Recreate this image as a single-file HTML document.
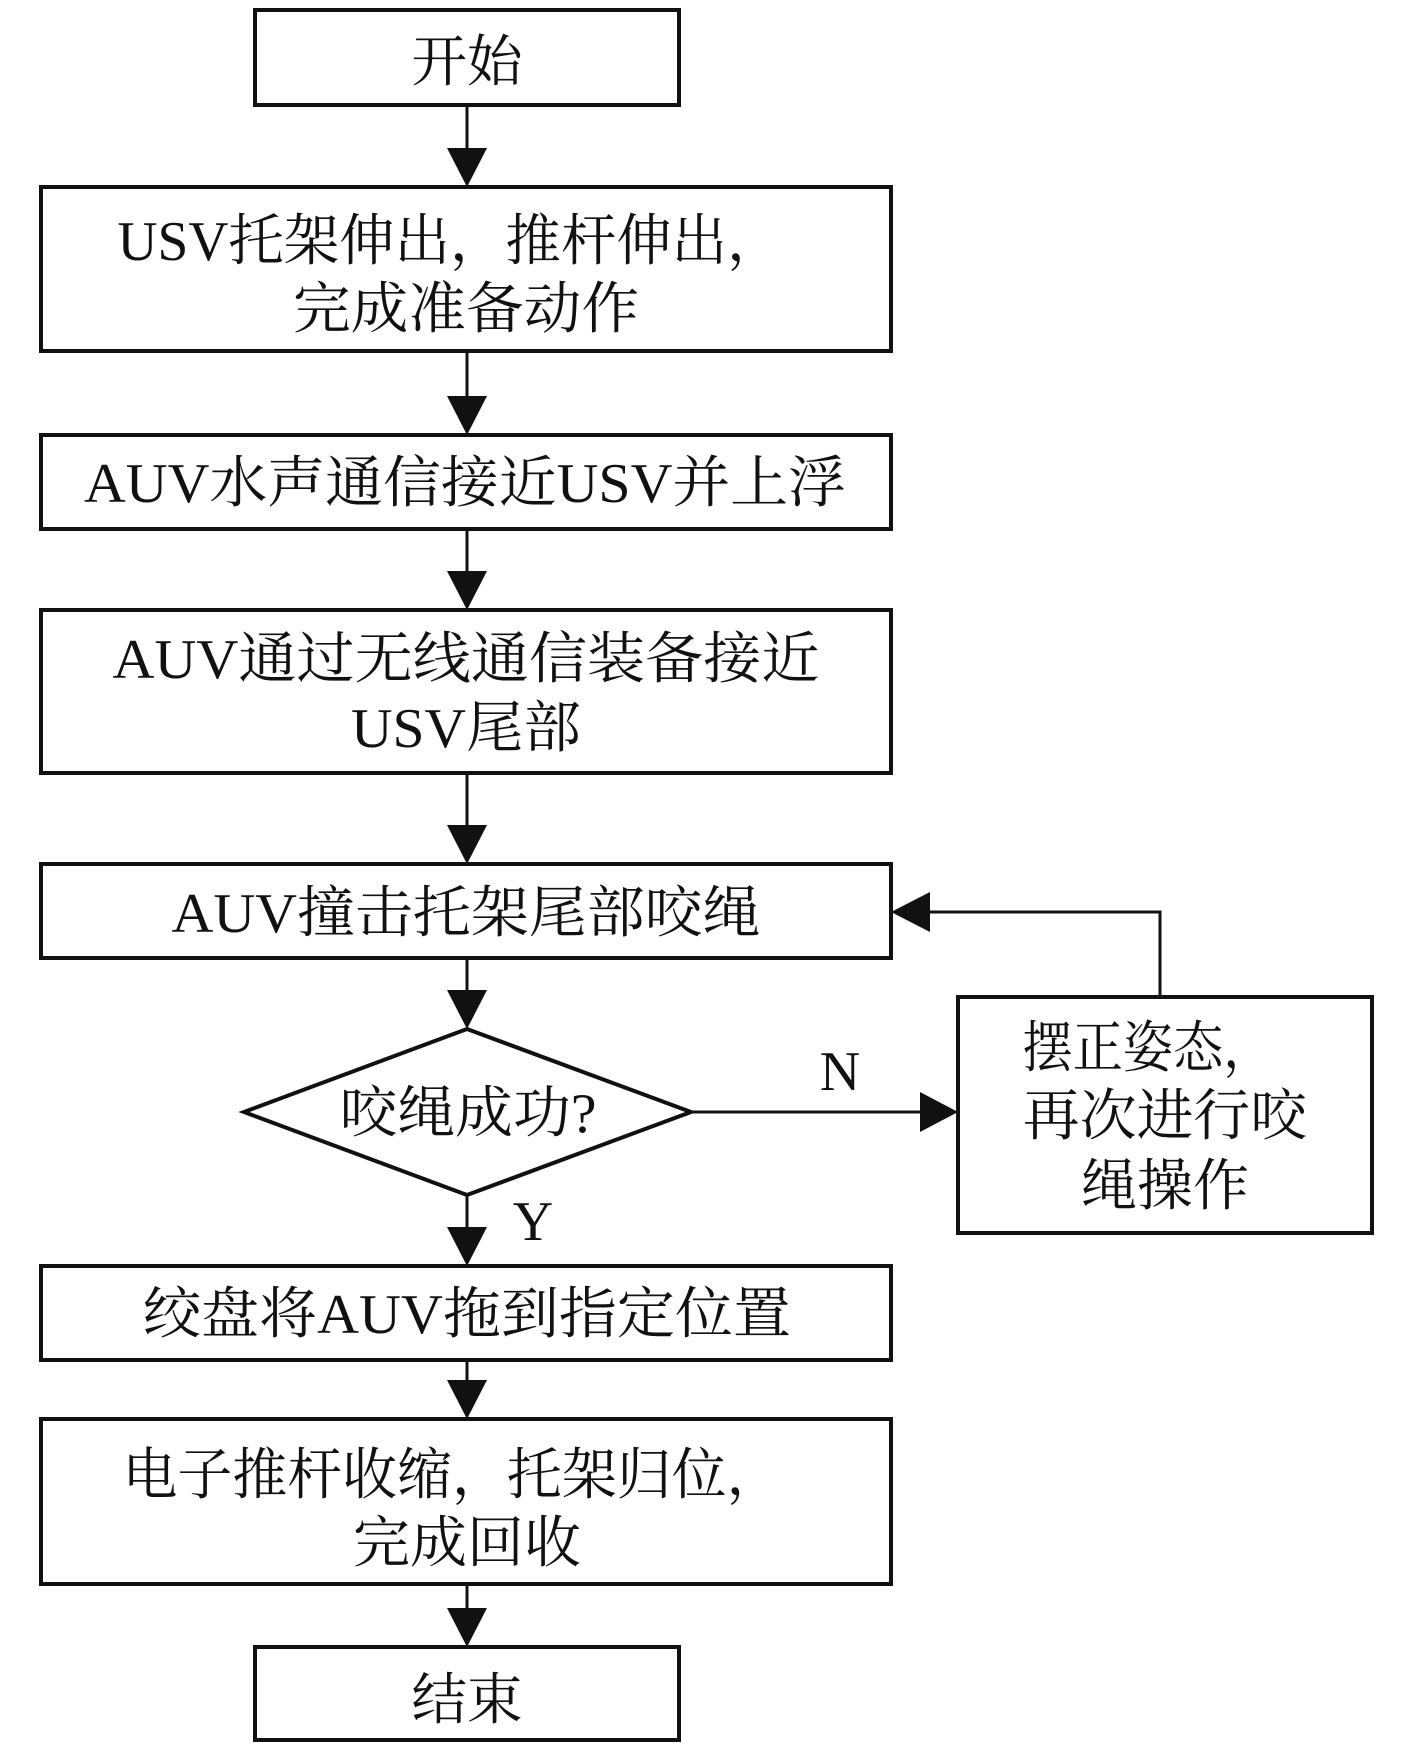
<!DOCTYPE html>
<html><head><meta charset="utf-8">
<style>
html,body{margin:0;padding:0;background:#fff;}
svg{display:block;}
text{font-family:"Liberation Serif","Noto Serif CJK SC",serif;font-size:56px;fill:#111;}
</style></head>
<body>
<svg width="1417" height="1755" viewBox="0 0 1417 1755" xmlns="http://www.w3.org/2000/svg">
<g fill="none" stroke="#111" stroke-width="4">
<rect x="255" y="10" width="424" height="95"/>
<rect x="41" y="187" width="850" height="164"/>
<rect x="41" y="435" width="850" height="94"/>
<rect x="41" y="610" width="850" height="163"/>
<rect x="41" y="864" width="850" height="94"/>
<polygon points="244,1112 467,1029 691,1112 467,1195"/>
<rect x="958" y="997" width="414" height="236"/>
<rect x="41" y="1266" width="850" height="94"/>
<rect x="41" y="1419" width="850" height="165"/>
<rect x="255" y="1647" width="424" height="93"/>
</g>
<g stroke="#111" stroke-width="3" fill="none">
<line x1="467" y1="105" x2="467" y2="150"/>
<line x1="467" y1="351" x2="467" y2="398"/>
<line x1="467" y1="529" x2="467" y2="573"/>
<line x1="467" y1="773" x2="467" y2="827"/>
<line x1="467" y1="958" x2="467" y2="992"/>
<line x1="467" y1="1195" x2="467" y2="1229"/>
<line x1="467" y1="1360" x2="467" y2="1382"/>
<line x1="467" y1="1584" x2="467" y2="1610"/>
<line x1="691" y1="1112" x2="922" y2="1112"/>
<polyline points="1160,997 1160,912 928,912"/>
</g>
<g fill="#111">
<polygon points="447,148 487,148 467,187"/>
<polygon points="447,396 487,396 467,435"/>
<polygon points="447,571 487,571 467,610"/>
<polygon points="447,825 487,825 467,864"/>
<polygon points="447,990 487,990 467,1029"/>
<polygon points="447,1227 487,1227 467,1266"/>
<polygon points="447,1380 487,1380 467,1419"/>
<polygon points="447,1608 487,1608 467,1647"/>
<polygon points="920,1092 920,1132 958,1112"/>
<polygon points="930,892 930,932 891,912"/>
</g>
<g text-anchor="middle">
<text x="467" y="81" textLength="111" lengthAdjust="spacingAndGlyphs">开始</text>
<text x="450" y="260" textLength="665" lengthAdjust="spacingAndGlyphs">USV托架伸出，推杆伸出，</text>
<text x="466" y="328" textLength="346" lengthAdjust="spacingAndGlyphs">完成准备动作</text>
<text x="465" y="502" textLength="762" lengthAdjust="spacingAndGlyphs">AUV水声通信接近USV并上浮</text>
<text x="466" y="678" textLength="707" lengthAdjust="spacingAndGlyphs">AUV通过无线通信装备接近</text>
<text x="466" y="747" textLength="230" lengthAdjust="spacingAndGlyphs">USV尾部</text>
<text x="466" y="932" textLength="589" lengthAdjust="spacingAndGlyphs">AUV撞击托架尾部咬绳</text>
<text x="468" y="1132" textLength="257" lengthAdjust="spacingAndGlyphs">咬绳成功?</text>
<text x="1148" y="1067" textLength="251" lengthAdjust="spacingAndGlyphs">摆正姿态，</text>
<text x="1165" y="1135" textLength="284" lengthAdjust="spacingAndGlyphs">再次进行咬</text>
<text x="1165" y="1205" textLength="168" lengthAdjust="spacingAndGlyphs">绳操作</text>
<text x="840" y="1090">N</text>
<text x="533" y="1240">Y</text>
<text x="467" y="1333" textLength="648" lengthAdjust="spacingAndGlyphs">绞盘将AUV拖到指定位置</text>
<text x="452" y="1494" textLength="659" lengthAdjust="spacingAndGlyphs">电子推杆收缩，托架归位，</text>
<text x="467" y="1562" textLength="228" lengthAdjust="spacingAndGlyphs">完成回收</text>
<text x="467" y="1719" textLength="111" lengthAdjust="spacingAndGlyphs">结束</text>
</g>
</svg>
</body></html>
